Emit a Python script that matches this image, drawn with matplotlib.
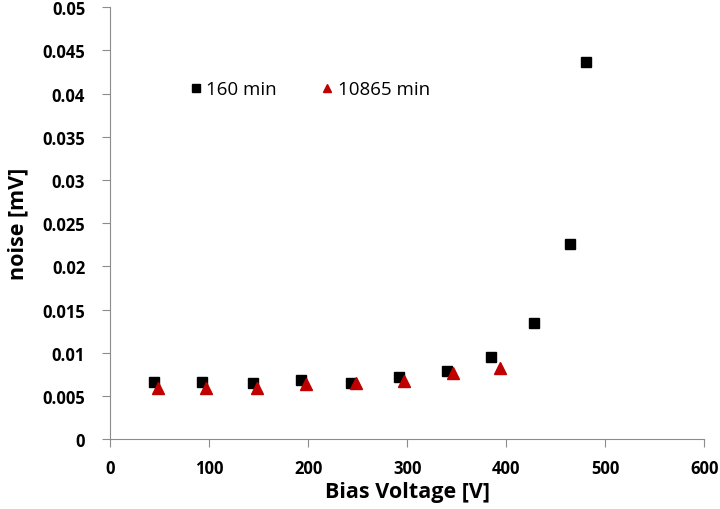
import matplotlib.pyplot as plt

# Datos
v_160 = [44, 93, 144, 193, 243, 292, 340, 385, 428, 464, 481]
n_160 = [0.0066, 0.0066, 0.0065, 0.0068, 0.0065, 0.0072, 0.0079, 0.0095, 0.0134, 0.0226, 0.0437]

v_10865 = [48, 97, 148, 198, 248, 297, 346, 394]
n_10865 = [0.0059, 0.0059, 0.0059, 0.0064, 0.0065, 0.0067, 0.0076, 0.0082]

yticks = [0, 0.005, 0.01, 0.015, 0.02, 0.025, 0.03, 0.035, 0.04, 0.045, 0.05]
ytick_labels = ['0', '0.005', '0.01', '0.015', '0.02', '0.025', '0.03', '0.035', '0.04', '0.045', '0.05']
xticks = [0, 100, 200, 300, 400, 500, 600]

plt.rcParams['font.family'] = ['Open Sans', 'DejaVu Sans']

fig = plt.figure(figsize=(7.2, 5.1), dpi=100)
ax = fig.add_axes([0.153, 0.137, 0.825, 0.847])

ax.plot(v_160, n_160, 's', color='black', markersize=7, label='160 min', linestyle='none')
ax.plot(v_10865, n_10865, '^', color='#c00000', markersize=8, label='10865 min', linestyle='none')

ax.set_xlim(0, 600)
ax.set_ylim(0, 0.05)
ax.set_xticks(xticks)
ax.set_yticks(yticks)
ax.set_yticklabels(ytick_labels)

for sp in ['top', 'right']:
    ax.spines[sp].set_visible(False)
for sp in ['left', 'bottom']:
    ax.spines[sp].set_color('#8c8c8c')
ax.tick_params(direction='out', length=6, color='#8c8c8c', labelsize=12)
ax.tick_params(axis='x', pad=8)
ax.tick_params(axis='y', pad=12)
for lbl in ax.get_xticklabels() + ax.get_yticklabels():
    lbl.set_fontweight('bold')

ax.set_xlabel('Bias Voltage [V]', fontsize=15.5, fontweight='bold', labelpad=3)
ax.set_ylabel('noise [mV]', fontsize=15.5, fontweight='bold', labelpad=10)

ax.legend(loc='center left', bbox_to_anchor=(0.1, 0.81), ncol=2, frameon=False,
          fontsize=13.5, handletextpad=0.05, columnspacing=2.2, handlelength=1.0,
          markerscale=0.75)

fig.savefig('out.png', dpi=100)
